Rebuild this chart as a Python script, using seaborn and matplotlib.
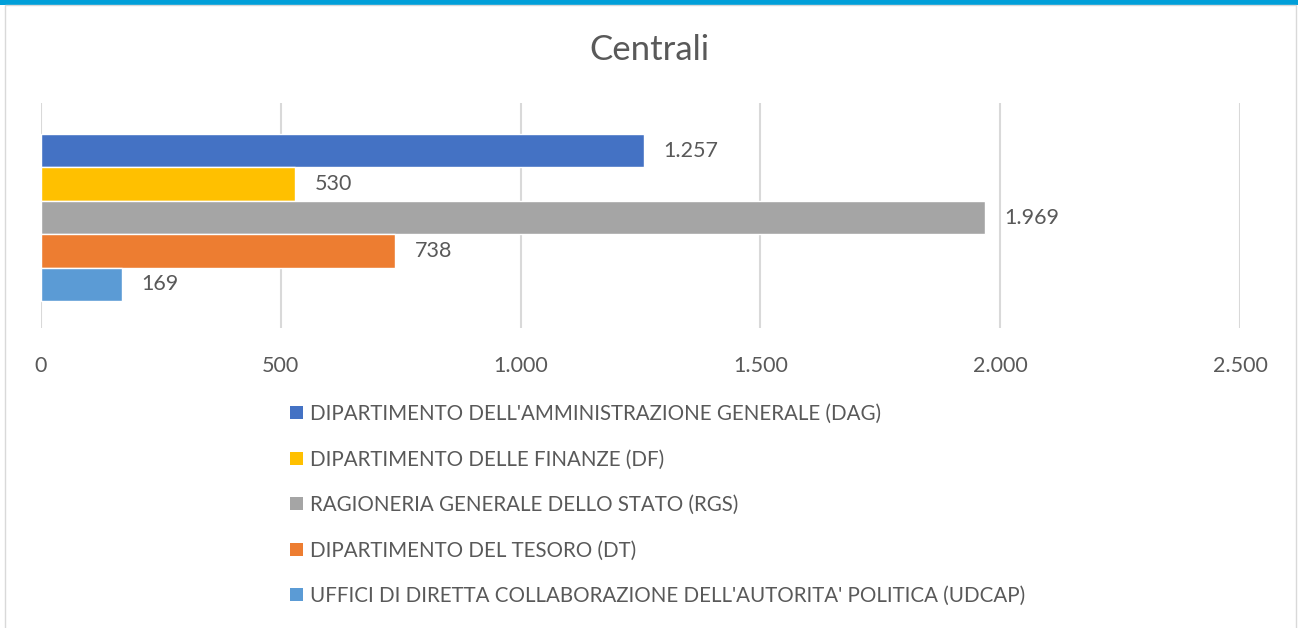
import matplotlib
matplotlib.use("Agg")
import matplotlib.pyplot as plt
import seaborn as sns
import pandas as pd
from matplotlib.patches import Patch, Rectangle
from matplotlib.ticker import FuncFormatter

# data
uffici = [
    "DIPARTIMENTO DELL'AMMINISTRAZIONE GENERALE (DAG)",
    "DIPARTIMENTO DELLE FINANZE (DF)",
    "RAGIONERIA GENERALE DELLO STATO (RGS)",
    "DIPARTIMENTO DEL TESORO (DT)",
    "UFFICI DI DIRETTA COLLABORAZIONE DELL'AUTORITA' POLITICA (UDCAP)",
]
valori = [1257, 530, 1969, 738, 169]
colori = ["#4472C4", "#FFC000", "#A5A5A5", "#ED7D31", "#5B9BD5"]
xticks = [0, 500, 1000, 1500, 2000, 2500]

df = pd.DataFrame({"ufficio": uffici, "valore": valori})

sns.set_style("white")
plt.rcParams["font.family"] = ["Lato", "DejaVu Sans"]
testo = "#595959"

W, H = 1298, 628
fig = plt.figure(figsize=(W / 100, H / 100), dpi=100)

# cornice
fig.add_artist(Rectangle((0, 1 - 5 / H), 1, 5 / H, transform=fig.transFigure,
                         color="#009FD9", lw=0))
fig.add_artist(Rectangle((5 / W, -0.01), (1291) / W, 1 - 5 / H + 0.01,
                         transform=fig.transFigure, fill=False,
                         edgecolor="#D9D9D9", lw=1))

ax = fig.add_axes([41 / W, 1 - 328 / H, (1240 - 41) / W, (328 - 103) / H])
sns.barplot(data=df, x="valore", y="ufficio", hue="ufficio", palette=colori,
            orient="h", width=1, legend=False, ax=ax, saturation=1)

ax.set_xlim(0, 2500)
ax.set_ylim(5.31, -1.43)
ax.set_xticks(xticks)
ax.xaxis.set_major_formatter(FuncFormatter(lambda v, p: f"{v:,.0f}".replace(",", ".")))
ax.set_yticks([])
ax.set_xlabel("")
ax.set_ylabel("")
ax.tick_params(axis="x", length=0, pad=20, labelsize=15.5, labelcolor=testo)
ax.grid(axis="x", color="#D9D9D9", lw=1.5)
ax.set_axisbelow(True)
for s in ax.spines.values():
    s.set_visible(False)

for cont, v in zip(ax.containers, valori):
    ax.bar_label(cont, labels=[f"{v:,}".replace(",", ".")], padding=14,
                 fontsize=15.5, color=testo)

fig.text(0.5, 1 - 50 / H, "Centrali", ha="center", va="center",
         fontsize=25, color=testo)

handles = [Patch(facecolor=c, edgecolor="none") for c in colori]
fig.legend(handles, uffici, loc="upper left", bbox_to_anchor=(290 / W, 1 - 404 / H),
           frameon=False, fontsize=14.8, labelcolor=testo, handlelength=0.62,
           handleheight=0.62, handletextpad=0.35, labelspacing=1.24,
           borderpad=0, borderaxespad=0)

fig.savefig("out.png", dpi=100)
